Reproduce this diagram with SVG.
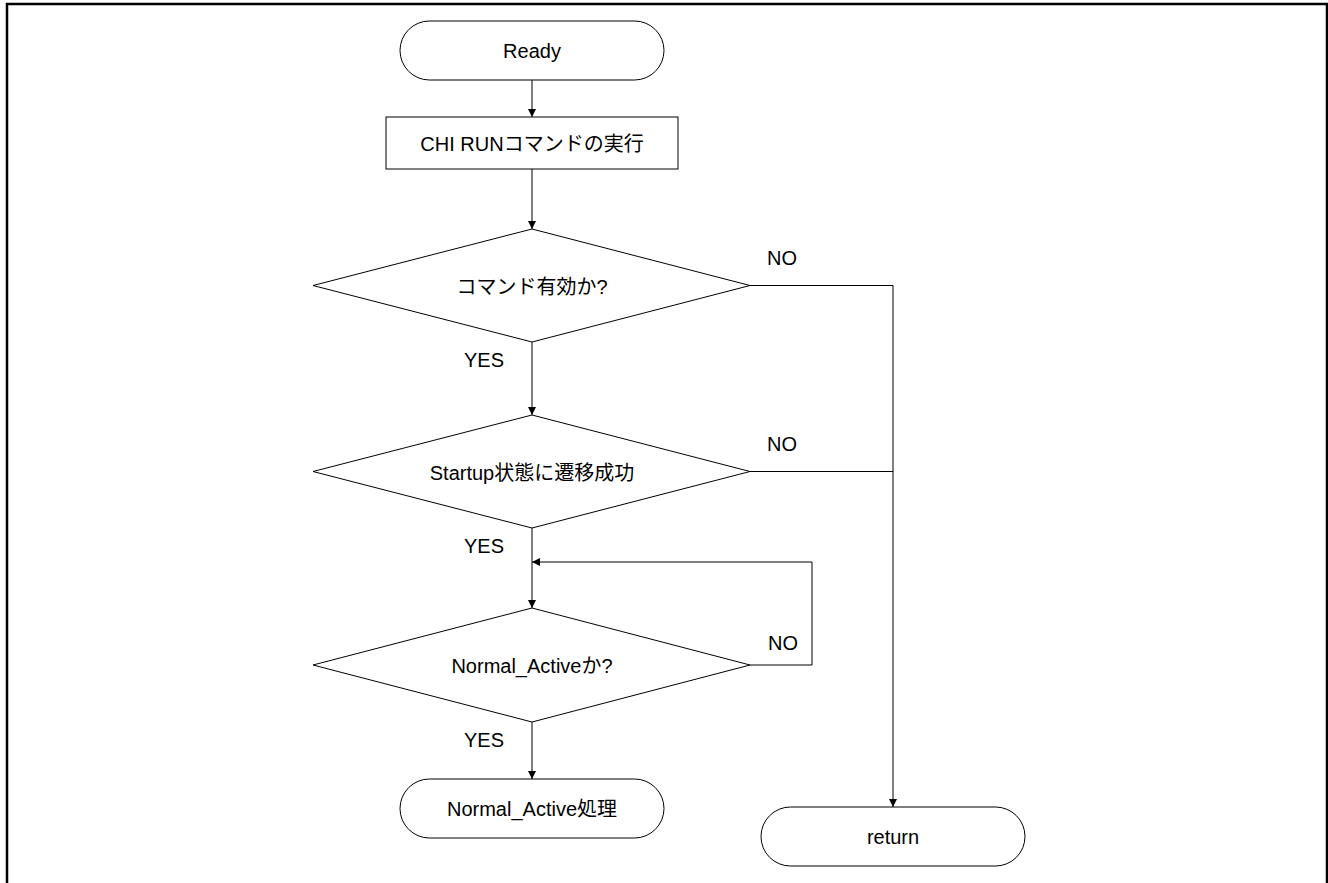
<svg xmlns="http://www.w3.org/2000/svg" width="1328" height="883" viewBox="0 0 1328 883">
  <style>
    .shape { fill: #ffffff; stroke: #000000; stroke-width: 1; }
    .edge { fill: none; stroke: #000000; stroke-width: 1; }
    text { font-family: "Liberation Sans", "Noto Sans CJK JP", sans-serif; font-size: 20px; fill: #000000; }
    .mid { text-anchor: middle; }
  </style>
  <defs>
    <marker id="arrow" viewBox="0 0 10 10" refX="10" refY="5" markerWidth="8" markerHeight="8" markerUnits="userSpaceOnUse" orient="auto">
      <path d="M0,0 L10,5 L0,10 Z" fill="#000000"/>
    </marker>
  </defs>

  <!-- page frame -->
  <rect x="7" y="4" width="1320" height="900" fill="#ffffff" stroke="#000000" stroke-width="2.5"/>

  <g id="connectors">
    <line class="edge" x1="532" y1="80" x2="532" y2="117" marker-end="url(#arrow)"/>
    <line class="edge" x1="532" y1="169" x2="532" y2="229" marker-end="url(#arrow)"/>
    <line class="edge" x1="532" y1="342" x2="532" y2="415" marker-end="url(#arrow)"/>
    <line class="edge" x1="532" y1="528" x2="532" y2="608" marker-end="url(#arrow)"/>
    <line class="edge" x1="532" y1="722" x2="532" y2="779" marker-end="url(#arrow)"/>
    <!-- NO branches to return -->
    <polyline class="edge" points="750,285.5 893,285.5 893,807" marker-end="url(#arrow)"/>
    <line class="edge" x1="750" y1="471.5" x2="893" y2="471.5"/>
    <!-- retry loop -->
    <polyline class="edge" points="750,665 812,665 812,562 532,562" marker-end="url(#arrow)"/>
  </g>

  <g id="ready">
    <rect class="shape" x="400" y="21" width="264" height="59" rx="29.5" ry="29.5"/>
    <text class="mid" x="532" y="58">Ready</text>
  </g>

  <g id="run-command">
    <rect class="shape" x="386" y="117" width="292" height="52"/>
    <text class="mid" x="532" y="150.5">CHI RUNコマンドの実行</text>
  </g>

  <g id="command-valid">
    <polygon class="shape" points="532,229 750,285.5 532,342 313,285.5"/>
    <text class="mid" x="532" y="293.5">コマンド有効か?</text>
  </g>

  <g id="startup-transition">
    <polygon class="shape" points="532,415 750,471.5 532,528 313,471.5"/>
    <text class="mid" x="532" y="479.5">Startup状態に遷移成功</text>
  </g>

  <g id="normal-active-check">
    <polygon class="shape" points="532,608 750,665 532,722 313,665"/>
    <text class="mid" x="532" y="673">Normal_Activeか?</text>
  </g>

  <g id="normal-active-process">
    <rect class="shape" x="400" y="779" width="264" height="59" rx="29.5" ry="29.5"/>
    <text class="mid" x="532" y="816">Normal_Active処理</text>
  </g>

  <g id="return">
    <rect class="shape" x="761" y="807" width="264" height="59" rx="29.5" ry="29.5"/>
    <text class="mid" x="893" y="844">return</text>
  </g>

  <!-- branch labels -->
  <g id="labels">
    <text x="767" y="265">NO</text>
    <text x="767" y="451">NO</text>
    <text x="768" y="650">NO</text>
    <text x="464" y="367">YES</text>
    <text x="464" y="553">YES</text>
    <text x="464" y="747">YES</text>
  </g>
</svg>
